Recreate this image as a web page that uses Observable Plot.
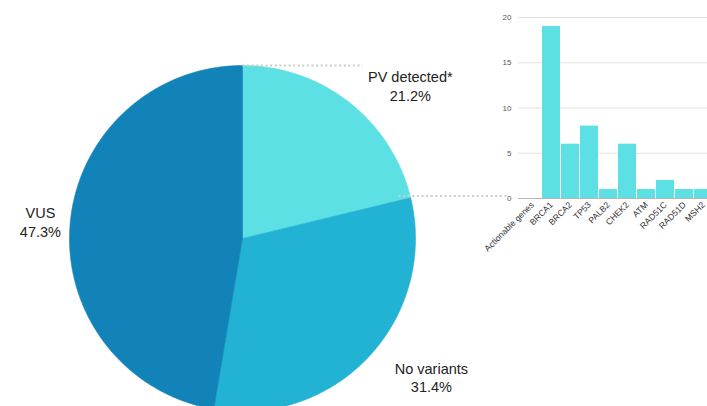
<!DOCTYPE html>
<html>
<head>
<meta charset="utf-8">
<script src="https://cdn.jsdelivr.net/npm/d3@7"></script>
<script src="https://cdn.jsdelivr.net/npm/@observablehq/plot@0.6"></script>
<style>
  html, body { margin: 0; padding: 0; background: #fff; }
  #wrap { position: relative; width: 707px; height: 406px; overflow: hidden; background: #fff; font-family: "Liberation Sans", Arial, sans-serif; }
  #pie, #bars { position: absolute; top: 0; }
  #pie { left: 0; }
  #bars { left: 460px; }
</style>
</head>
<body>
<div id="wrap"><div id="pie"></div><div id="bars"></div></div>
<script>
// ---- data ----
const pieLabels = ["PV detected*", "No variants", "VUS"];
const pieValues = [21.2, 31.4, 47.3];
const genes = ["Actionable genes", "BRCA1", "BRCA2", "TP53", "PALB2", "CHEK2", "ATM", "RAD51C", "RAD51D", "MSH2"];
const geneCounts = [0, 19, 6, 8, 1, 6, 1, 2, 1, 1];
const yTicks = [0, 5, 10, 15, 20];

// ---- styling / layout (not data) ----
const pieColors = ["#5ce0e3", "#22b2d4", "#1283b8"];
const barColor = "#5ce0e3";
const labelPos = {            // label block centres, in pie-radius units
  "PV detected*": [0.97, 0.885],
  "No variants": [1.092, -0.80],
  "VUS": [-1.168, 0.10]
};

// ---- pie ----
const arcs = d3.pie().sort(null).value(d => d)(pieValues);
const slicePts = arcs.map((a, i) => {
  const pts = [{x: 0, y: 0}];
  const n = Math.max(2, Math.ceil((a.endAngle - a.startAngle) / 0.01));
  for (let k = 0; k <= n; k++) {
    const t = a.startAngle + (a.endAngle - a.startAngle) * k / n;
    pts.push({x: Math.sin(t), y: Math.cos(t)});
  }
  pts.push({x: 0, y: 0});
  return pts;
});
const labelData = pieLabels.map((l, i) => ({
  x: labelPos[l][0], y: labelPos[l][1],
  text: l + "\n" + pieValues[i].toFixed(1) + "%"
}));
const pv = arcs[0];
const connectors = [
  [{x: Math.sin(pv.startAngle), y: Math.cos(pv.startAngle)}, {x: 0.694, y: Math.cos(pv.startAngle)}],
  [{x: Math.sin(pv.endAngle) - 0.07, y: Math.cos(pv.endAngle) + 0.01}, {x: 1.525, y: Math.cos(pv.endAngle) + 0.01}]
];

const pie = Plot.plot({
  width: 707, height: 406,
  margin: 0,
  x: {type: "linear", domain: [-1, 1], range: [69, 415], axis: null},
  y: {type: "linear", domain: [-1, 1], range: [411, 65], axis: null},
  style: {background: "transparent", maxWidth: "none", overflow: "visible", fontFamily: "Liberation Sans, Arial, sans-serif"},
  marks: [
    ...slicePts.map((pts, i) => Plot.line(pts, {x: "x", y: "y", fill: pieColors[i], stroke: pieColors[i], strokeWidth: 0.6})),
    ...connectors.map(c => Plot.line(c, {x: "x", y: "y", stroke: "#cccccc", strokeWidth: 2, strokeDasharray: "2,2.6", strokeLinecap: "butt"})),
    Plot.text(labelData, {x: "x", y: "y", text: "text", fontSize: 14.5, lineHeight: 1.3, fill: "#222", textAnchor: "middle"})
  ]
});
document.getElementById("pie").appendChild(pie);

// ---- bar chart ----
const barData = genes.map((g, i) => ({gene: g, count: geneCounts[i]}));
const step = 19.8;
const bars = Plot.plot({
  width: 300, height: 260,
  marginLeft: 58, marginRight: 0, marginTop: 0, marginBottom: 62,
  x: {type: "band", domain: genes, range: [58.5, 58.5 + step * genes.length], paddingInner: 0.05, paddingOuter: 0, label: null},
  y: {domain: [0, 20], range: [198, 17], label: null},
  style: {background: "transparent", maxWidth: "none", overflow: "visible", fontFamily: "Liberation Sans, Arial, sans-serif"},
  marks: [
    Plot.gridY(yTicks, {stroke: "#e3e3e3", strokeOpacity: 1, strokeWidth: 1}),
    Plot.barY(barData, {x: "gene", y: "count", fill: barColor, inset: 0}),
    Plot.ruleY([0], {stroke: "#b5b5b5", strokeWidth: 1}),
    Plot.axisY(yTicks, {tickSize: 0, tickPadding: 7, fontSize: 8, fill: "#555", label: null}),
    Plot.axisX({tickSize: 0, tickPadding: 5, tickRotate: -45, fontSize: 8.6, fill: "#333", label: null})
  ]
});
document.getElementById("bars").appendChild(bars);
</script>
</body>
</html>
